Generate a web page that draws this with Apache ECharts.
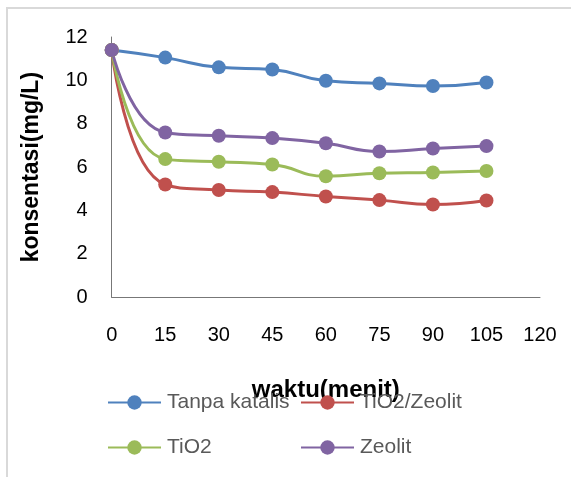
<!DOCTYPE html>
<html><head><meta charset="utf-8">
<script src="https://cdn.jsdelivr.net/npm/echarts@6/dist/echarts.min.js"></script>
<style>html,body{margin:0;padding:0;background:#fff}#c{width:571px;height:477px}</style>
</head><body><div id="c"></div>
<script>
const times = [0, 15, 30, 45, 60, 75, 90, 105];
const tanpaKatalis = [11.4, 11.05, 10.6, 10.5, 9.98, 9.86, 9.74, 9.9];
const tio2Zeolit   = [11.4, 5.2, 4.95, 4.85, 4.65, 4.48, 4.28, 4.46];
const tio2         = [11.4, 6.37, 6.25, 6.12, 5.58, 5.72, 5.75, 5.82];
const zeolit       = [11.4, 7.6, 7.45, 7.34, 7.1, 6.72, 6.86, 6.97];
const seriesNames = ['Tanpa katalis', 'TiO2/Zeolit', 'TiO2', 'Zeolit'];
const colors = ['#4F81BD', '#C0504D', '#9BBB59', '#8064A2'];
const valueSets = [tanpaKatalis, tio2Zeolit, tio2, zeolit];

const chart = echarts.init(document.getElementById('c'), null, {renderer: 'canvas'});
const font = 'Liberation Sans';
const legendPos = [[107, 392], [300, 392], [107, 437], [300, 437]];
const option = {
  animation: false,
  backgroundColor: '#fff',
  graphic: [{type: 'rect', shape: {x: 7, y: 8, width: 620, height: 520}, style: {fill: 'none', stroke: '#d9d9d9', lineWidth: 2}, z: -1}],
  grid: {left: 111.7, top: 37, right: 31, bottom: 179.7},
  xAxis: {
    type: 'value', min: 0, max: 120, interval: 15,
    name: 'waktu(menit)', nameLocation: 'middle', nameGap: 81,
    nameTextStyle: {fontFamily: font, fontWeight: 'bold', fontSize: 24, color: '#000'},
    axisLine: {lineStyle: {color: '#777', width: 1}},
    axisTick: {show: false}, splitLine: {show: false},
    axisLabel: {fontFamily: font, fontSize: 20, color: '#000', margin: 28}
  },
  yAxis: {
    type: 'value', min: 0, max: 12, interval: 2,
    name: 'konsentasi(mg/L)', nameLocation: 'middle', nameGap: 69,
    nameTextStyle: {fontFamily: font, fontWeight: 'bold', fontSize: 23, color: '#000'},
    axisLine: {show: true, lineStyle: {color: '#777', width: 1}},
    axisTick: {show: false}, splitLine: {show: false},
    axisLabel: {fontFamily: font, fontSize: 20, color: '#000', margin: 24}
  },
  legend: seriesNames.map((n, i) => ({
    data: [n], left: legendPos[i][0], top: legendPos[i][1], padding: 0,
    itemWidth: 53, itemHeight: 18, itemGap: 0,
    textStyle: {fontFamily: font, fontSize: 21, color: '#595959', padding: [0, 0, 0, 1]}
  })),
  series: seriesNames.map((n, i) => ({
    name: n, type: 'line', smooth: 0.5,
    data: times.map((t, j) => [t, valueSets[i][j]]),
    symbol: 'circle', symbolSize: 14,
    lineStyle: {width: 3, color: colors[i]},
    itemStyle: {color: colors[i]}
  }))
};
chart.setOption(option);
</script></body></html>
